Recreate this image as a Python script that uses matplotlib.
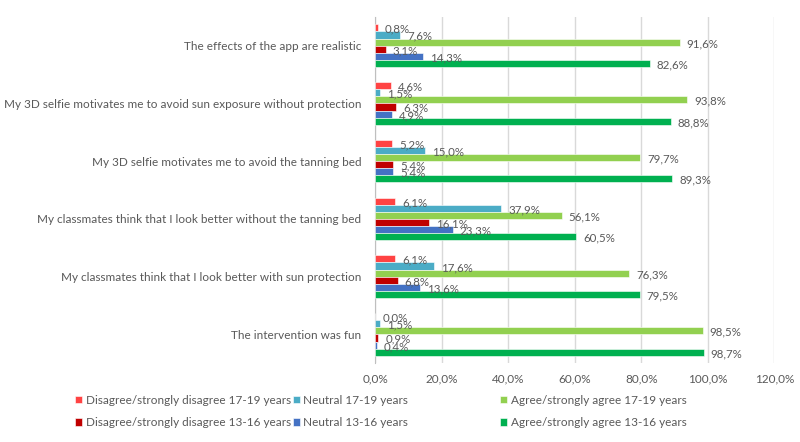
import matplotlib
matplotlib.use('Agg')
from matplotlib import pyplot as plt
import numpy as np

plt.rcParams['font.family'] = ['Lato', 'DejaVu Sans']

questions = ['The effects of the app are realistic',
             'My 3D selfie motivates me to avoid sun exposure without protection',
             'My 3D selfie motivates me to avoid the tanning bed',
             'My classmates think that I look better without the tanning bed',
             'My classmates think that I look better with sun protection',
             'The intervention was fun']

series_names = ['Disagree/strongly disagree 17-19 years', 'Neutral 17-19 years',
                'Agree/strongly agree 17-19 years', 'Disagree/strongly disagree 13-16 years',
                'Neutral 13-16 years', 'Agree/strongly agree 13-16 years']

disagree_17_19 = [0.8, 4.6, 5.2, 6.1, 6.1, 0.0]
neutral_17_19 = [7.6, 1.5, 15.0, 37.9, 17.6, 1.5]
agree_17_19 = [91.6, 93.8, 79.7, 56.1, 76.3, 98.5]
disagree_13_16 = [3.1, 6.3, 5.4, 16.1, 6.8, 0.9]
neutral_13_16 = [14.3, 4.9, 5.4, 23.3, 13.6, 0.4]
agree_13_16 = [82.6, 88.8, 89.3, 60.5, 79.5, 98.7]

series = [disagree_17_19, neutral_17_19, agree_17_19, disagree_13_16, neutral_13_16, agree_13_16]
colors = ['#FF4343', '#4BACC6', '#92D050', '#C00000', '#4472C4', '#00B050']

grey = '#595959'

fig = plt.figure(figsize=(8, 4.42), dpi=100)
ax = fig.add_axes([0.469, 0.178, 0.499, 0.784])

h = 0.123
y = np.arange(len(questions))
bars = []
for i, (vals, c, name) in enumerate(zip(series, colors, series_names)):
    pos = y - 2.5 * h + i * h
    b = ax.barh(pos, vals, height=h, color=c, edgecolor='white', linewidth=0.4, label=name, zorder=3)
    bars.append(b)
    for p, v in zip(pos, vals):
        ax.annotate(f'{v:.1f}%'.replace('.', ','), (v, p), xytext=(5, -1), textcoords='offset points',
                    va='center', ha='left', fontsize=8.3, color=grey, zorder=4)

ax.set_ylim(5.5, -0.5)
ax.set_xlim(0, 120)
ax.set_xticks(np.arange(0, 121, 20))
ax.set_xticklabels([f'{t:.1f}%'.replace('.', ',') for t in np.arange(0, 121, 20)], fontsize=8.5, color=grey)
ax.set_yticks(y)
ax.set_yticklabels(questions, fontsize=8.5, color=grey)
ax.tick_params(axis='both', length=0)
ax.tick_params(axis='x', pad=7)
ax.tick_params(axis='y', pad=10)
ax.grid(axis='x', color='#D9D9D9', linewidth=1, zorder=0)
for s in ['top', 'right', 'bottom']:
    ax.spines[s].set_visible(False)
ax.spines['left'].set_color('#BFBFBF')

col_x = [0.094, 0.366, 0.625]
for k in range(3):
    fig.legend([bars[k], bars[k + 3]], [series_names[k], series_names[k + 3]],
               loc='upper left', bbox_to_anchor=(col_x[k], 0.107), frameon=False,
               fontsize=8.5, labelcolor=grey, handlelength=0.6, handleheight=0.6,
               handletextpad=0.3, labelspacing=0.95, borderpad=0, borderaxespad=0)

fig.savefig('out.png', dpi=100)
